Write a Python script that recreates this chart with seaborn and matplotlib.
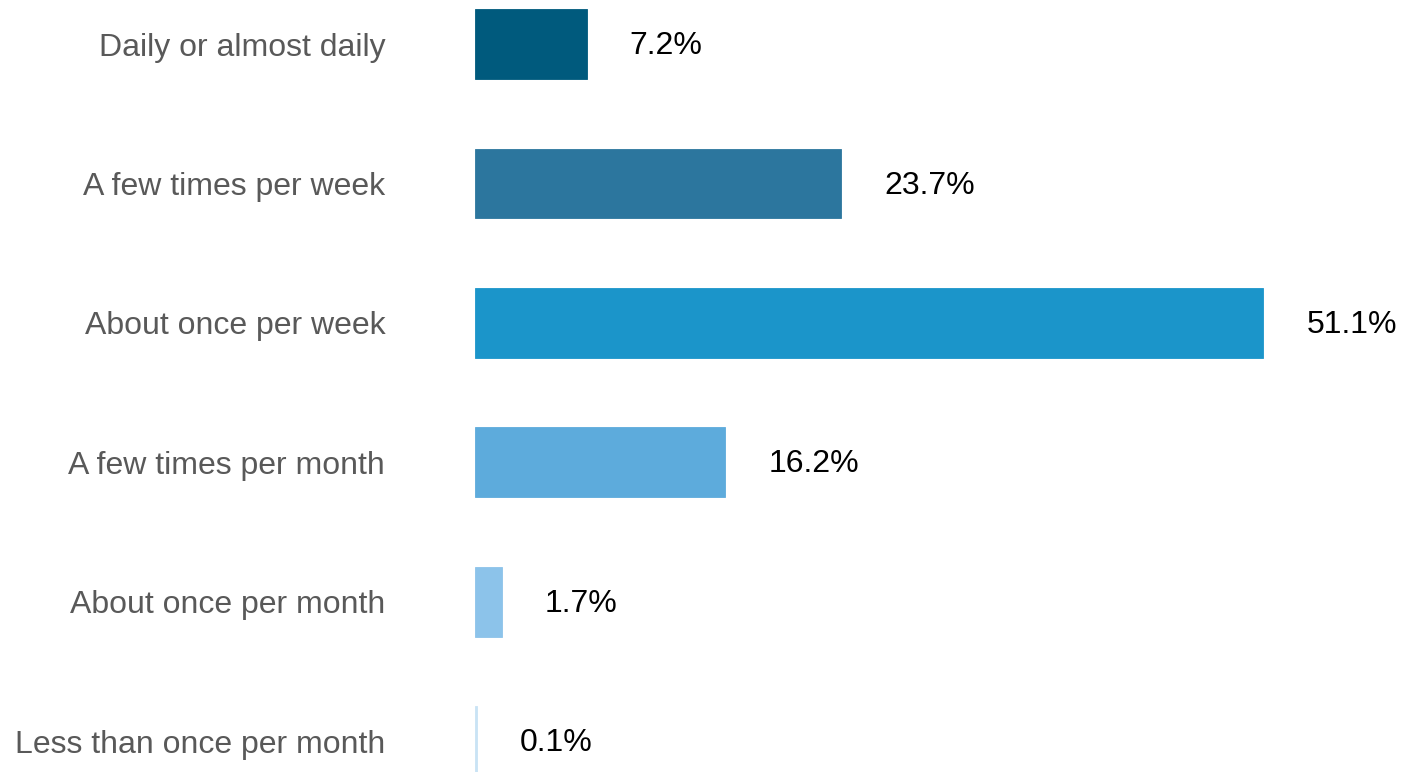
import matplotlib
matplotlib.use('Agg')
import matplotlib.pyplot as plt
import seaborn as sns
import pandas as pd

categories = ['Daily or almost daily', 'A few times per week', 'About once per week',
              'A few times per month', 'About once per month', 'Less than once per month']
values = [7.2, 23.7, 51.1, 16.2, 1.7, 0.1]
colors = ['#005A7D', '#2C769E', '#1B95CA', '#5DABDC', '#8CC3EA', '#C9E3F5']

df = pd.DataFrame({'Category': categories, 'Value': values})

sns.set_style('white')
plt.rcParams['font.family'] = ['Liberation Sans', 'DejaVu Sans']

fig = plt.figure(figsize=(14.06, 7.72), dpi=100)
ax = fig.add_axes([475.5 / 1406, 0, 1 - 475.5 / 1406, 1])

sns.barplot(data=df, y='Category', x='Value', hue='Category', palette=colors,
            legend=False, width=0.5, orient='h', ax=ax, saturation=1)

# thin bars get a hairline edge so the 0.1% bar stays visible
for patch in ax.patches:
    patch.set_edgecolor(patch.get_facecolor())
    patch.set_linewidth(0.6)

ax.set_xlim(0, 930.5 / 15.42)
ax.set_ylim(5.222, -0.316)
ax.set_xlabel('')
ax.set_ylabel('')
ax.set_xticks([])
for s in ax.spines.values():
    s.set_visible(False)
ax.tick_params(axis='y', length=0, pad=65, labelsize=23, labelcolor='#595959')

for i, v in enumerate(values):
    ax.annotate(f'{v}%', xy=(v, i), xytext=(31, -1.5), textcoords='offset points',
                va='center', ha='left', fontsize=23, color='black')

plt.savefig('out.png', dpi=100)
plt.close()
